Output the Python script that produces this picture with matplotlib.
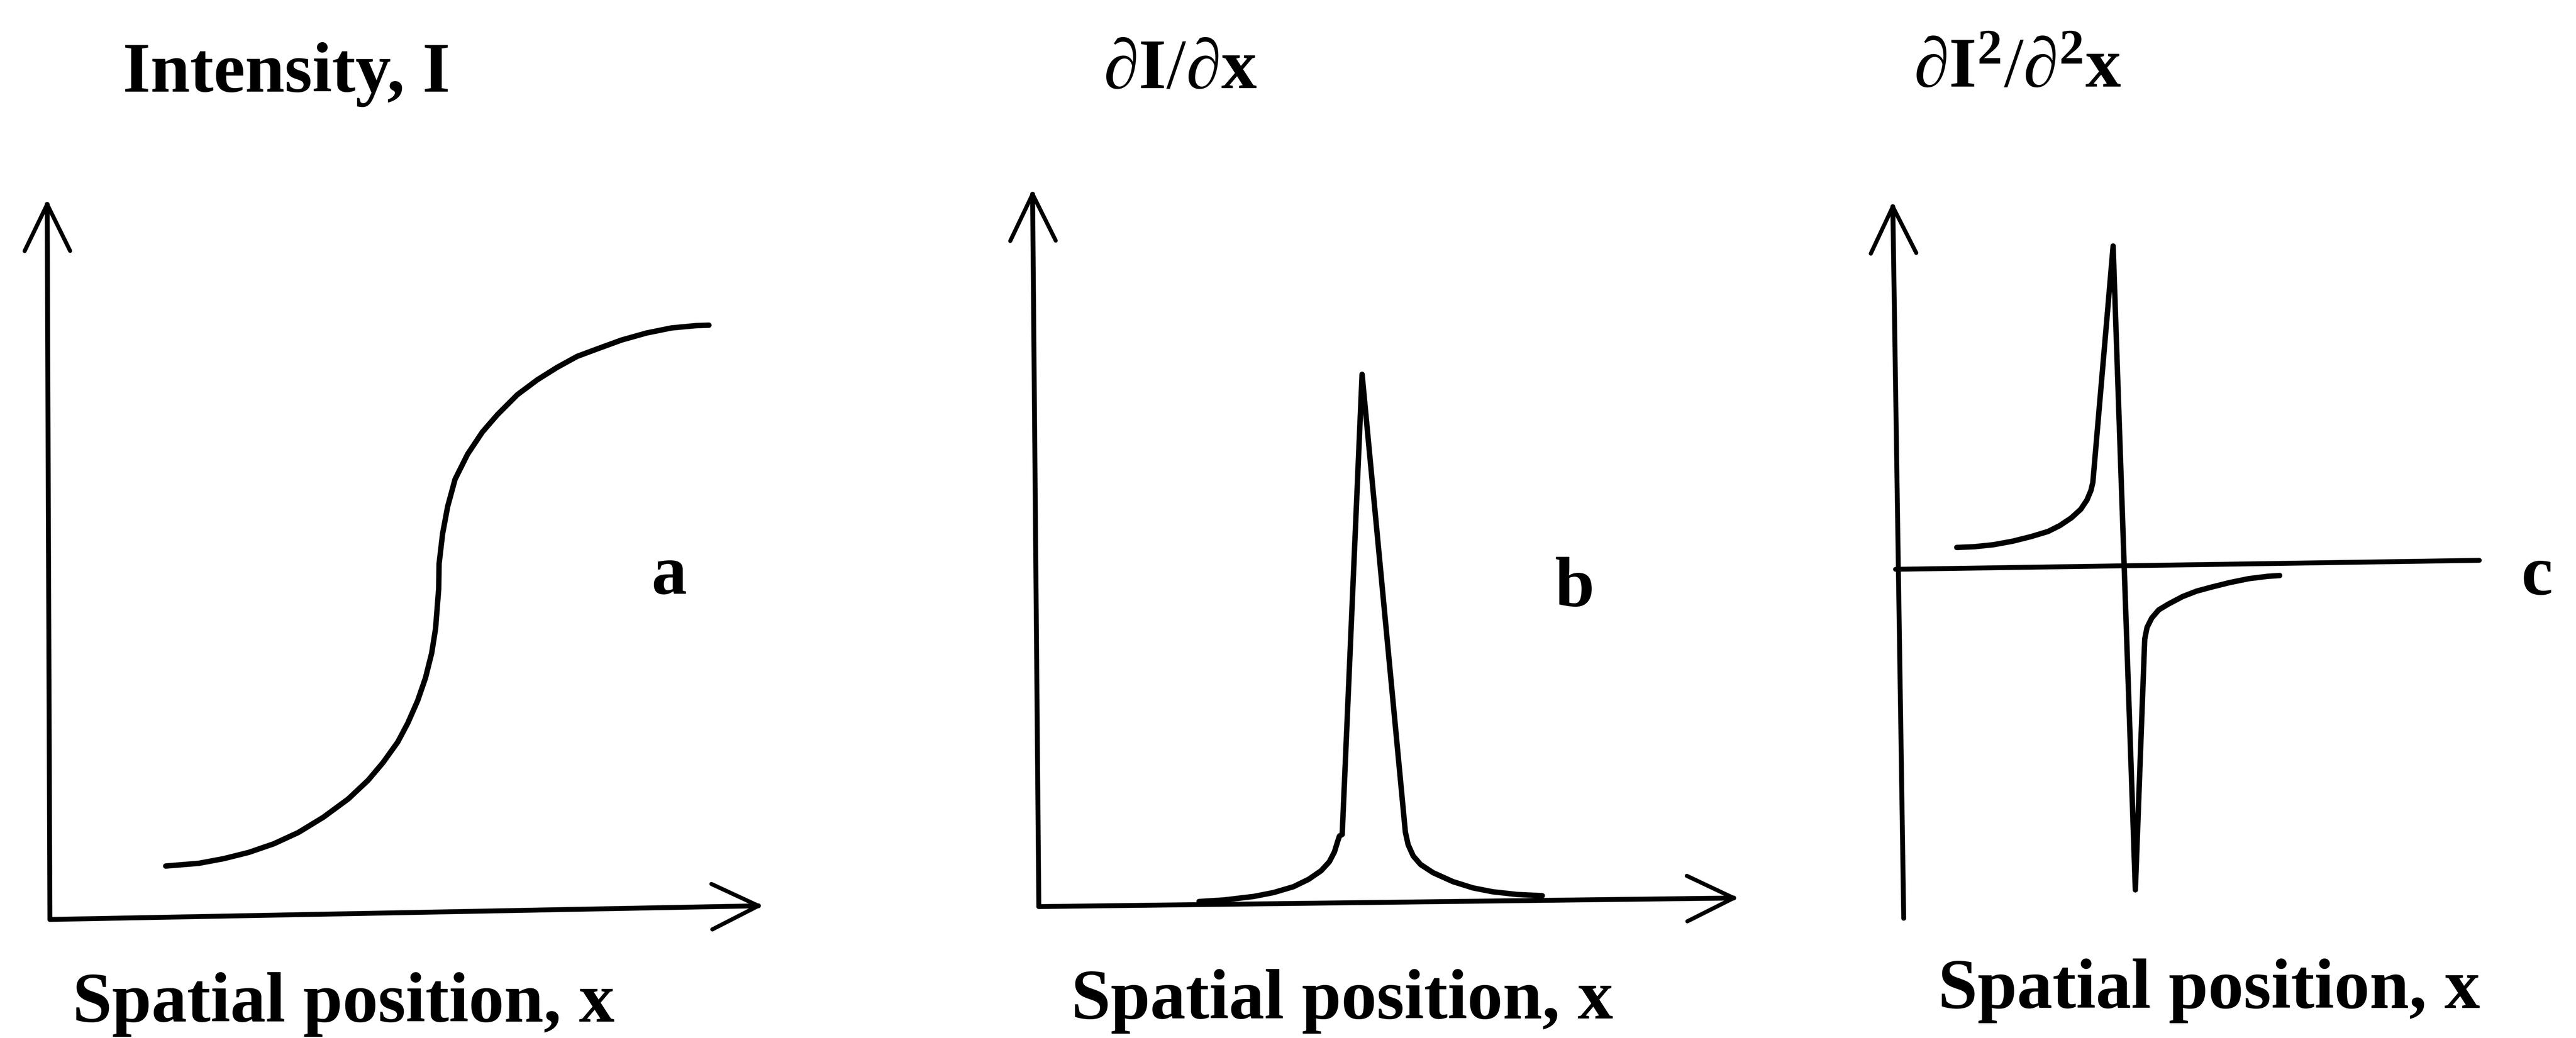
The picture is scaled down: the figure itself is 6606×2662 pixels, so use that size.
import numpy as np
import matplotlib
matplotlib.use("Agg")
import matplotlib.pyplot as plt

plt.rcParams["font.family"] = ["Liberation Serif", "DejaVu Serif"]
plt.rcParams["mathtext.fontset"] = "custom"
plt.rcParams["mathtext.rm"] = "Liberation Serif"
plt.rcParams["mathtext.it"] = "Liberation Serif:italic"
plt.rcParams["mathtext.bf"] = "Liberation Serif:bold"

W, H, DPI = 6606, 2662, 100
U = 100.0          # pixels per data unit in every panel
FS = 131           # text size (pt)

# ---- data (panel units, origin at the axes corner)
# a: intensity profile
a_x = [2.97, 3.82, 4.46, 5.10, 5.74, 6.37, 7.01, 7.65, 8.16, 8.54, 8.92, 9.18,
       9.43, 9.63, 9.79, 9.89, 9.94, 9.97, 9.98, 10.07, 10.20, 10.39, 10.71,
       11.09, 11.48, 11.99, 12.50, 13.01, 13.52, 14.03, 14.66, 15.30, 15.94,
       16.58, 16.90]
a_y = [1.37, 1.44, 1.56, 1.72, 1.94, 2.23, 2.62, 3.09, 3.57, 4.02, 4.55, 5.04,
       5.61, 6.19, 6.83, 7.46, 8.10, 8.48, 9.12, 9.89, 10.59, 11.29, 11.93,
       12.50, 12.95, 13.46, 13.84, 14.16, 14.44, 14.63, 14.86, 15.04, 15.17,
       15.23, 15.24]
# b: first derivative
b_x = [4.11, 4.75, 5.51, 6.02, 6.53, 6.92, 7.24, 7.45, 7.58, 7.66, 7.71, 7.78,
       8.29, 9.40, 9.47, 9.60, 9.79, 10.11, 10.62, 11.13, 11.64, 12.27, 12.91]
b_y = [0.13, 0.17, 0.26, 0.36, 0.51, 0.70, 0.92, 1.15, 1.40, 1.66, 1.81, 1.85,
       13.65, 1.91, 1.59, 1.30, 1.08, 0.87, 0.64, 0.48, 0.38, 0.31, 0.28]
# c: second derivative
c_x = [1.57, 2.03, 2.51, 3.00, 3.48, 3.91, 4.21, 4.51, 4.75, 4.91, 5.01, 5.06,
       5.58, 6.15, 6.39, 6.45, 6.57, 6.75, 7.00, 7.36, 7.72, 8.09, 8.57, 9.06,
       9.54, 9.85]
c_y = [0.56, 0.58, 0.63, 0.72, 0.84, 0.97, 1.12, 1.32, 1.54, 1.78, 2.02, 2.23,
       8.29, -8.22, -1.79, -1.49, -1.25, -1.04, -0.89, -0.70, -0.56, -0.46,
       -0.34, -0.24, -0.18, -0.16]

TITLES = ["Intensity, I",
          r"$\partial\mathbf{I}/\partial\mathbf{x}$",
          r"$\partial\mathbf{I}^{\mathbf{2}}/\partial^{\mathbf{2}}\mathbf{x}$"]
XLABEL = "Spatial position, x"
LETTERS = ["a", "b", "c"]

LW_CURVE, LW_AXIS, LW_HEAD = 10.0, 9.0, 7.5
HEAD_LEN, HEAD_ANG = 1.33, np.radians(26)

fig = plt.figure(figsize=(W / DPI, H / DPI), dpi=DPI)
fig.patch.set_facecolor("white")


def panel_axes(ox, oy, left, top, right, bottom):
    ax = fig.add_axes([left / W, 1 - bottom / H, (right - left) / W, (bottom - top) / H])
    ax.set_xlim((left - ox) / U, (right - ox) / U)
    ax.set_ylim((oy - bottom) / U, (oy - top) / U)
    ax.axis("off")
    return ax


def axis_line(ax, start, tip, head=True):
    start, tip = np.asarray(start, float), np.asarray(tip, float)
    ax.plot(*zip(start, tip), color="black", lw=LW_AXIS, solid_capstyle="round")
    if not head:
        return
    d = (start - tip) / np.linalg.norm(start - tip)
    for s in (1, -1):
        c, si = np.cos(s * HEAD_ANG), np.sin(s * HEAD_ANG)
        w = tip + HEAD_LEN * np.array([c * d[0] - si * d[1], si * d[0] + c * d[1]])
        ax.plot(*zip(tip, w), color="black", lw=LW_HEAD, solid_capstyle="round")


def curve(ax, x, y):
    ax.plot(x, y, color="black", lw=LW_CURVE, solid_capstyle="round",
            solid_joinstyle="round")


def fig_text(px, py, s, **kw):
    fig.text(px / W, 1 - py / H, s, fontsize=FS, fontweight="bold",
             va="baseline", **kw)


# panel a
ax = panel_axes(128, 2358, 0, 380, 2150, 2500)
axis_line(ax, (0, 0), (-0.07, 18.34))
axis_line(ax, (0, 0), (18.17, 0.35))
curve(ax, a_x, a_y)

# panel b
ax = panel_axes(2664, 2325, 2450, 380, 4600, 2500)
axis_line(ax, (0, 0), (-0.16, 18.27))
axis_line(ax, (0, 0), (17.82, 0.22))
curve(ax, b_x, b_y)

# panel c
ax = panel_axes(4861, 1460, 4650, 380, 6450, 2500)
axis_line(ax, (0.21, -8.95), (-0.07, 9.30))
axis_line(ax, (0, 0), (14.97, 0.23), head=False)
curve(ax, c_x, c_y)

# texts
for (px, py), t in zip([(315, 235), (2830, 226), (4908, 222)], TITLES):
    fig_text(px, py, t, ha="left")
for px, py in [(186, 2620), (2747, 2612), (4970, 2585)]:
    fig_text(px, py, XLABEL, ha="left")
for (px, py), t in zip([(1716, 1522), (4038, 1555), (6506, 1524)], LETTERS):
    fig_text(px, py, t, ha="center")

fig.savefig("out.png", dpi=DPI, facecolor="white")
